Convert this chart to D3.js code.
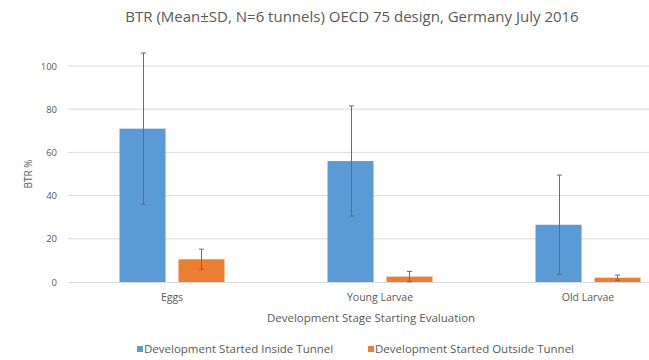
<!DOCTYPE html>
<html>
<head>
<meta charset="utf-8">
<script src="https://cdn.jsdelivr.net/npm/d3@7"></script>
<style>
  html, body { margin: 0; padding: 0; background: #ffffff; }
  svg { display: block; font-family: "Open Sans", Lato, sans-serif; }
</style>
</head>
<body>
<svg id="chart" width="649" height="360"></svg>
<script>
// Development stages on the x axis
const stages = ["Eggs", "Young Larvae", "Old Larvae"];
// Series names
const seriesNames = ["Development Started Inside Tunnel", "Development Started Outside Tunnel"];
// Mean BTR % per stage
const insideMean = [71, 56, 26.5];
const outsideMean = [10.5, 2.5, 2];
// Standard deviation per stage
const insideSD = [35, 25.5, 23];
const outsideSD = [4.7, 2.4, 1.2];
// Y axis ticks
const yTicks = [0, 20, 40, 60, 80, 100];

const colors = ["#5B9BD5", "#ED7D31"];
const textColor = "#595959";

const svg = d3.select("#chart");
const W = 649, H = 360;
const plot = { left: 68, right: 692, top: 66, bottom: 282 };

const y = d3.scaleLinear().domain([0, 100]).range([plot.bottom, plot.top]);
const x0 = d3.scaleBand().domain(stages).range([plot.left, plot.right]).paddingInner(0.433).paddingOuter(0.2165);
const x1 = d3.scaleBand().domain([0, 1]).range([0, x0.bandwidth()]).paddingInner(0.22).paddingOuter(0.11);

// Horizontal gridlines
svg.append("g").selectAll("line").data(yTicks.filter(d => d > 0)).join("line")
  .attr("x1", plot.left).attr("x2", W)
  .attr("y1", d => y(d)).attr("y2", d => y(d))
  .attr("stroke", "#d9d9d9").attr("stroke-width", 1);

// Y axis tick labels
const yAxis = d3.axisLeft(y).tickValues(yTicks).tickSize(0).tickPadding(11);
const gy = svg.append("g").attr("transform", `translate(${plot.left},0)`).call(yAxis);
gy.select(".domain").remove();
gy.selectAll("text").attr("fill", textColor).style("font-size", "9.5px").style("font-family", "'Open Sans', sans-serif");

// Bars
const rows = stages.map((s, i) => [
  { stage: s, k: 0, mean: insideMean[i], sd: insideSD[i] },
  { stage: s, k: 1, mean: outsideMean[i], sd: outsideSD[i] }
]).flat();

svg.append("g").selectAll("rect").data(rows).join("rect")
  .attr("x", d => x0(d.stage) + x1(d.k))
  .attr("width", x1.bandwidth())
  .attr("y", d => y(d.mean))
  .attr("height", d => y(0) - y(d.mean))
  .attr("fill", d => colors[d.k]);

// Baseline
svg.append("line")
  .attr("x1", plot.left).attr("x2", W)
  .attr("y1", y(0) + 0.5).attr("y2", y(0) + 0.5)
  .attr("stroke", "#d9d9d9").attr("stroke-width", 1);

// Error bars (mean ± SD)
const eb = svg.append("g").attr("stroke", "#6b6b6b").attr("stroke-width", 1);
rows.forEach(d => {
  const cx = Math.round(x0(d.stage) + x1(d.k) + x1.bandwidth() / 2) + 0.5;
  const lo = Math.max(0, d.mean - d.sd), hi = d.mean + d.sd;
  eb.append("line").attr("x1", cx).attr("x2", cx).attr("y1", y(lo)).attr("y2", y(hi));
  [lo, hi].forEach(v => {
    eb.append("line").attr("x1", cx - 2.5).attr("x2", cx + 2.5).attr("y1", y(v)).attr("y2", y(v));
  });
});

// X axis category labels
const xAxis = d3.axisBottom(x0).tickSize(0).tickPadding(12);
const gx = svg.append("g").attr("transform", `translate(0,${plot.bottom})`).call(xAxis);
gx.select(".domain").remove();
gx.selectAll("text").attr("fill", textColor).style("font-size", "10.5px").style("font-family", "'Open Sans', sans-serif");

// Title
svg.append("text").attr("x", 352).attr("y", 22).attr("text-anchor", "middle")
  .attr("fill", textColor).style("font-size", "15px")
  .text("BTR (Mean±SD, N=6 tunnels) OECD 75 design, Germany July 2016");

// Axis titles
svg.append("text").attr("x", 371).attr("y", 322).attr("text-anchor", "middle")
  .attr("fill", textColor).style("font-size", "11.5px")
  .text("Development Stage Starting Evaluation");
svg.append("text").attr("transform", `translate(32,${y(50)}) rotate(-90)`).attr("text-anchor", "middle")
  .attr("fill", textColor).style("font-size", "10px")
  .text("BTR %");

// Legend
const legendX = [137, 368];
const lg = svg.append("g");
seriesNames.forEach((name, i) => {
  lg.append("rect").attr("x", legendX[i]).attr("y", 346).attr("width", 6).attr("height", 6).attr("fill", colors[i]);
  lg.append("text").attr("x", legendX[i] + 7).attr("y", 353).attr("fill", textColor)
    .style("font-size", "11.5px").text(name);
});
</script>
</body>
</html>
